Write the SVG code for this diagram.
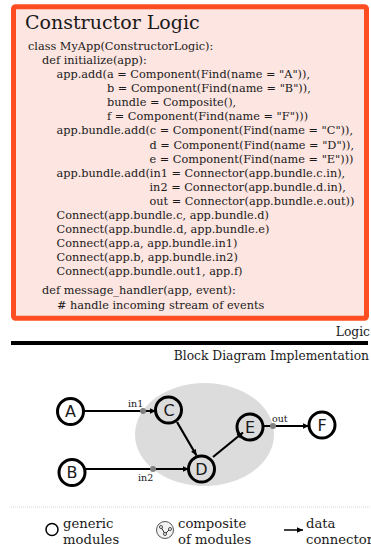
<svg xmlns="http://www.w3.org/2000/svg" width="371" height="548" viewBox="0 0 371 548">
<defs>
<marker id="arr" markerUnits="userSpaceOnUse" markerWidth="8" markerHeight="8" refX="7" refY="4" orient="auto"><path d="M1 1.2L7 4L1 6.8Z" fill="#000"/></marker>
</defs>
<style>
text{font-family:"DejaVu Serif",serif;fill:#1a1a1a}
.code text{font-size:11.3px}
.n circle{fill:none;stroke:#000;stroke-width:3}
.n text{font-family:"DejaVu Sans",sans-serif;font-size:16px;text-anchor:middle}
.c path{fill:none;stroke:#000;stroke-width:2.2;marker-end:url(#arr)}
.p{fill:#808080}
.s{font-size:9.5px}
.lg{font-size:13.2px}
.h{font-size:12.3px;text-anchor:end}
</style>
<rect id="panel" x="13.500" y="6.800" width="353" height="311.500" rx="2" fill="#fde5e1" stroke="#ff4d22" stroke-width="5"/>
<text x="25" y="28.500" font-size="19">Constructor Logic</text>
<g class="code">
<text x="28" y="50">class MyApp(ConstructorLogic):</text>
<text x="42" y="64">def initialize(app):</text>
<text x="56.500" y="78">app.add(a = Component(Find(name = "A")),</text>
<text x="107" y="92">b = Component(Find(name = "B")),</text>
<text x="107" y="106">bundle = Composite(),</text>
<text x="107" y="120">f = Component(Find(name = "F")))</text>
<text x="56.500" y="134">app.bundle.add(c = Component(Find(name = "C")),</text>
<text x="149.500" y="149">d = Component(Find(name = "D")),</text>
<text x="149.500" y="163">e = Component(Find(name = "E")))</text>
<text x="56.500" y="177">app.bundle.add(in1 = Connector(app.bundle.c.in),</text>
<text x="149.500" y="191">in2 = Connector(app.bundle.d.in),</text>
<text x="149.500" y="205">out = Connector(app.bundle.e.out))</text>
<text x="56.500" y="219">Connect(app.bundle.c, app.bundle.d)</text>
<text x="56.500" y="233">Connect(app.bundle.d, app.bundle.e)</text>
<text x="56.500" y="247">Connect(app.a, app.bundle.in1)</text>
<text x="56.500" y="261">Connect(app.b, app.bundle.in2)</text>
<text x="56.500" y="275">Connect(app.bundle.out1, app.f)</text>
<text x="42" y="294">def message_handler(app, event):</text>
<text x="57" y="309"># handle incoming stream of events</text>
</g>
<text class="h" x="370" y="336">Logic</text>
<rect x="11" y="341" width="357" height="4" fill="#000"/>
<text class="h" x="369" y="360">Block Diagram Implementation</text>
<ellipse id="bundle" cx="204.500" cy="434.500" rx="69.500" ry="51.500" fill="#dcdcdc"/>
<g id="connectors" class="c">
<path d="M84 411H156"/>
<path d="M86 469H189"/>
<path d="M177 422L196.500 455.500"/>
<path d="M213 457L243 432.500"/>
<path d="M263 426H309"/>
</g>
<circle class="p" cx="143" cy="411" r="3"/>
<circle class="p" cx="153" cy="469" r="3"/>
<circle class="p" cx="273" cy="426" r="3"/>
<text class="s" x="128" y="407">in1</text>
<text class="s" x="138" y="481">in2</text>
<text class="s" x="272" y="422">out</text>
<g id="A" class="n"><circle cx="70.500" cy="411.500" r="13"/><text x="70.500" y="417">A</text></g>
<g id="B" class="n"><circle cx="72" cy="472.500" r="13"/><text x="72" y="478">B</text></g>
<g id="C" class="n"><circle cx="168.500" cy="410" r="13"/><text x="169" y="416">C</text></g>
<g id="D" class="n"><circle cx="201.500" cy="469" r="13"/><text x="201.500" y="475">D</text></g>
<g id="E" class="n"><circle cx="250" cy="427" r="13"/><text x="250" y="433">E</text></g>
<g id="F" class="n"><circle cx="322" cy="425" r="13"/><text x="322" y="431">F</text></g>
<line x1="11" y1="507" x2="371" y2="507" stroke="#d8d8d8" stroke-dasharray="1 1"/>
<circle cx="52" cy="529.500" r="6" fill="none" stroke="#000" stroke-width="1.500"/>
<text class="lg" x="63" y="528">generic</text>
<text class="lg" x="63" y="544">modules</text>
<circle cx="165" cy="530" r="8.500" fill="#f2f2f2" stroke="#555"/>
<path d="M161 527L165 534L170 529" fill="none" stroke="#000" stroke-width=".8"/>
<circle cx="161" cy="527" r="1.500" fill="#fff" stroke="#000" stroke-width=".7"/><circle cx="165" cy="534" r="1.500" fill="#fff" stroke="#000" stroke-width=".7"/><circle cx="170" cy="529" r="1.500" fill="#fff" stroke="#000" stroke-width=".7"/>
<text class="lg" x="178" y="528">composite</text>
<text class="lg" x="178" y="544">of modules</text>
<line x1="284" y1="530" x2="303" y2="530" stroke="#000" stroke-width="1.500" marker-end="url(#arr)"/>
<text class="lg" x="306" y="528">data</text>
<text class="lg" x="306" y="544">connector</text>
</svg>
